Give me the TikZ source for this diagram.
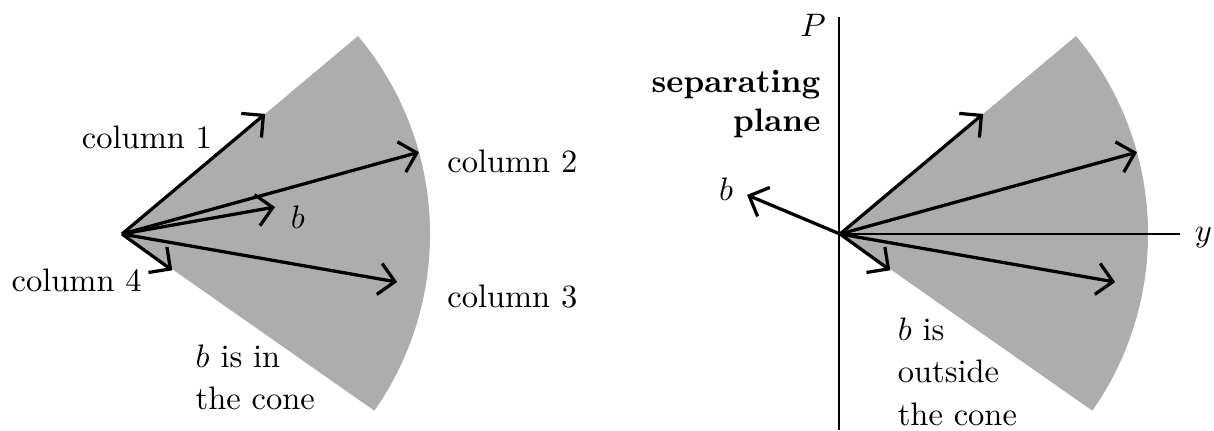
\documentclass[tikz,border=0pt]{standalone}
\usepackage{amsmath}
\usetikzlibrary{arrows.meta}

\begin{document}
\begin{tikzpicture}[vec/.style={line width=1pt,-{Straight Barb[length=1.7mm,width=3.4mm]}},
    cone/.style={fill=black!32},
    lbl/.style={inner sep=0pt},
    ax/.style={line width=0.4pt}]
      \useasboundingbox (-1.319,-2.119) rectangle (11.805,2.530);

      % b is in the cone
      \coordinate (A) at (0,0);
      \fill[cone] (A) -- (-35:3.33) arc (-35:40:3.33) -- cycle;
      \coordinate (a1) at (40:2.02);
      \coordinate (a2) at (15.4:3.33);
      \coordinate (a3) at (-9.9:3.02);
      \coordinate (a4) at (-35.8:0.67);
      \coordinate (ab) at (10:1.68);
      \draw[vec] (A) -- (a1);
      \draw[vec] (A) -- (a2);
      \draw[vec] (A) -- (a3);
      \draw[vec] (A) -- (a4);
      \draw[vec] (A) -- (ab);

      \node[lbl] (la1) at (0.27,1.04) {column 1};
      \node[lbl] (la2) at (4.22,0.78) {column 2};
      \node[lbl] (la3) at (4.22,-0.68) {column 3};
      \node[lbl] (la4) at (-0.49,-0.50) {column 4};
      \node[lbl] (lab) at (1.90,0.18) {$b$};
      \node[lbl,anchor=west,align=left] (lin) at (0.79,-1.55) {$b$ is in\\[1pt]the cone};

      % b is outside the cone
      \coordinate (B) at (7.762,0);
      \fill[cone] (B) -- ++(-35:3.33) arc (-35:40:3.33) -- cycle;
      \coordinate (pt) at (7.75,2.346);
      \coordinate (pb) at (7.75,-2.119);
      \coordinate (yend) at (11.44,0);
      \draw[ax] (pt) -- (pb);
      \draw[ax] (B) -- (yend);
      \coordinate (b1) at ([shift={(40:2.02)}]B);
      \coordinate (b2) at ([shift={(15.4:3.33)}]B);
      \coordinate (b3) at ([shift={(-9.9:3.02)}]B);
      \coordinate (b4) at ([shift={(-35.8:0.67)}]B);
      \coordinate (bb) at ([shift={(157.2:1.09)}]B);
      \draw[vec] (B) -- (b1);
      \draw[vec] (B) -- (b2);
      \draw[vec] (B) -- (b3);
      \draw[vec] (B) -- (b4);
      \draw[vec] (B) -- (bb);

      \node[lbl] (lP) at (7.47,2.26) {$P$};
      \node[lbl] (ly) at (11.69,-0.04) {$y$};
      \node[lbl] (lbb) at (6.53,0.48) {$b$};
      \node[lbl,anchor=east,align=right,font=\bfseries] (sep) at (7.557,1.405) {separating\\plane};
      \node[lbl,anchor=west,align=left] (lout) at (8.38,-1.49) {$b$ is\\[1pt]outside\\[1pt]the cone};
    \end{tikzpicture}
\end{document}
